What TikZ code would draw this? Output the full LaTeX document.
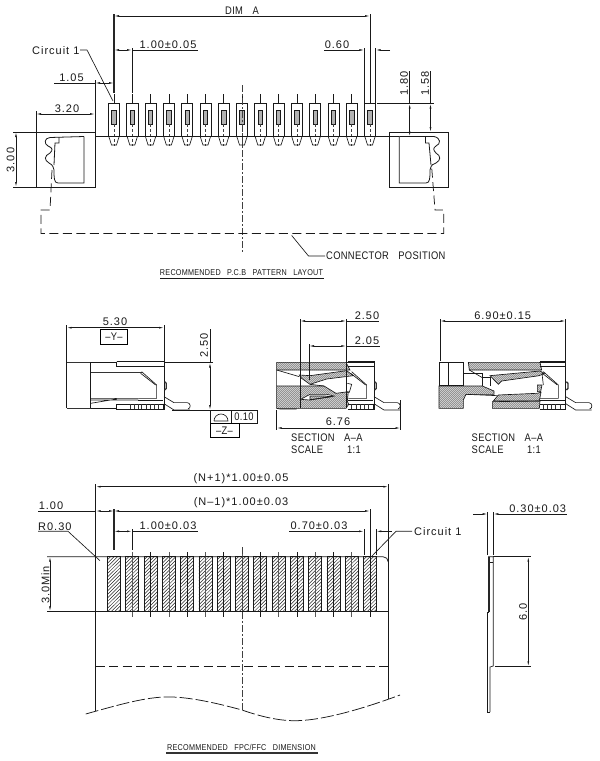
\documentclass[tikz,border=0pt]{standalone}
\usepackage{fontspec}
\setmainfont[LetterSpace=9]{Liberation Sans}
\newfontfamily\capsf[FakeStretch=0.85,LetterSpace=3]{Liberation Sans}
\usetikzlibrary{arrows.meta}
\tikzset{
  ln/.style={line width=0.65pt,black!90},
  thk/.style={line width=1.2pt,black!85},
  med/.style={line width=0.85pt,black!90},
  dimln/.style={line width=0.6pt,black!90,arrows={Latex[length=5pt,width=1.8pt]-Latex[length=5pt,width=1.8pt]}},
  toln/.style={line width=0.6pt,black!90,-{Latex[length=5pt,width=1.8pt]}},
  cen/.style={line width=0.65pt,black!75,dash pattern=on 7pt off 2pt on 2pt off 2pt},
  ctick/.style={line width=0.5pt,black!75,dash pattern=on 3pt off 2pt},
  hid/.style={line width=0.75pt,black!90,dash pattern=on 9pt off 4.5pt},
  txt/.style={inner sep=0pt,font=\fontsize{11}{11}\selectfont,text=black!90},
  captxt/.style={inner sep=0pt,font=\capsf\fontsize{11}{11}\selectfont,text=black!90},
  ttl/.style={inner sep=0pt,font=\capsf\fontsize{8.5}{9}\selectfont,text=black!90},
  z3/.style={x=0.33333pt,y=-0.33333pt},
  hl/.style={line width=0.35pt,black!85}
}
\newcommand\gap{\hspace{9.5pt}}
\newcommand\tgap{\hspace{4pt}}
\newcommand\wgap{\hspace{6.5pt}}
\newcommand\hatchz[1]{%
  \begin{scope}\clip #1;
  \foreach \k in {-160,-154,...,500}{\draw[hl] (\k,320)--(\k+160,160);}
  \end{scope}
  \draw[ln] #1;}
\newcommand\rightpart{%
  \draw[ln] (265,170)--(342,170) (265,184)--(342,184);
  \draw[ln] (342,168)--(342,315);
  \draw[line width=1.3pt,black!80] (344,230)--(349,235)--(349,250)--(344,255);
  \draw[ln] (275,200)--(320,240)--(320,280)--(265,280);
  \draw[ln] (272,205)--(317,240);
  \draw[ln] (265,285)--(340,285);
  \draw[ln] (265,298)--(340,298)--(340,312)--(265,312);
  \foreach \q in {275,288,300,312,325}{\draw[line width=0.9pt,black!80] (\q,298)--(\q,312);}
  \draw[ln] (342,275)--(372,293)--(412,293)..controls (422,293) and (424,310) .. (414,312);
  \draw[ln] (342,296)--(372,315)--(420,315);
}
\begin{document}
\begin{tikzpicture}[x=1pt,y=-1pt]
\useasboundingbox[fill=white] (0,0) rectangle (600,761);

% ===== top view =====
\draw[thk] (114,14)--(114,93);
\draw[ln] (370,14)--(370,103);
\draw[dimln] (114,16)--(370,16);
\node[captxt] (dima) at (242,10.5) {DIM\gap A};
\draw[ln] (132,48)--(132,93);
\draw[dimln] (114,50)--(132,50);
\draw[ln] (132,50)--(198,50);
\node[txt] (d100a) at (168,45) {1.00±0.05};
\node[txt,anchor=west] (circ1) at (32,51) {Circuit\tgap 1};
\draw[ln] (80,50)--(87,50)--(113,101);
\draw[ln] (54,83)--(95,83);
\draw[dimln] (95,83)--(114,83);
\node[txt] (d105) at (71.5,78) {1.05};
\draw[ln] (95,80)--(95,132);
\draw[ln] (36,111)--(36,132);
\draw[dimln] (36,114)--(95,114);
\node[txt] (d320) at (67,109) {3.20};
\draw[ln] (13,132)--(36,132) (13,187)--(36,187);
\draw[dimln] (16,132)--(16,187);
\node[txt,rotate=90] (d300) at (10.5,160) {3.00};
% pins
\foreach \i in {0,...,14}{
  \pgfmathsetmacro\px{114+18.286*\i}
  \draw[ln] (\px-5.6,136.5)--(\px-5.6,103)--(\px+5.6,103)--(\px+5.6,136.5);
  \draw[ln,fill=black!30] (\px-2.2,110)rectangle(\px+2.2,124);
  \draw[ln] (\px,94)--(\px,103);
  \draw[ctick] (\px,124)--(\px,146);
  \draw[ln] (\px-5,137)--(\px-2.5,145)--(\px+2.5,145)--(\px+5,137);
}
\draw[ln] (95,136.5)--(399,136.5);
\draw[cen] (242,85)--(242,252);
% left block
\draw[line width=0.8pt,black!90] (36,132) rectangle (95,187);
\draw[line width=0.8pt,black!90] (84,136.5)--(84,183)--(58,183)..controls (54,183) and (54,178) .. (54,170)
  ..controls (53,164) and (50,164) .. (49,163) ..controls (44,160) and (44,156) .. (50,153)
  ..controls (53,150) and (53,148) .. (48,146)..controls (44,144) and (44,138) .. (50,137.5) -- (84,136.5);
\draw[line width=0.8pt,black!90] (59,137)--(59,143)--(55,143)--(54,165);
\draw[hid] (52,170)--(50,210)--(41,210)--(41,233.5)--(443.7,233.5)--(443.7,210)--(435,210)--(431.5,165);
% right block
\draw[line width=0.8pt,black!90] (389.6,132) rectangle (448,187);
\draw[line width=0.8pt,black!90] (399.3,136.5)--(399.3,183)--(426,183)..controls (430,183) and (430,178) .. (430,170)
  ..controls (431,164) and (434,164) .. (436,163) ..controls (441,160) and (441,156) .. (436,153)
  ..controls (433,150) and (433,148) .. (436,146)..controls (441,144) and (441,138) .. (434,136.5) -- (399.3,136.5);
\draw[line width=0.8pt,black!90] (425.5,137)--(425.5,143)--(429,143)--(431,165);
% 0.60, heights
\draw[ln] (364.4,48)--(364.4,103) (375.6,48)--(375.6,103);
\draw[ln] (324,50)--(350,50);
\draw[toln] (350,50)--(364.4,50);
\draw[toln] (390,50)--(375.6,50);
\node[txt] (d060) at (337,45) {0.60};
\draw[ln] (377,103.5)--(434,103.5);
\draw[dimln] (409.7,103.5)--(409.7,136.5);
\draw[ln] (409.7,71)--(409.7,104);
\draw[ln] (430.5,71)--(430.5,104);
\draw[dimln] (430.5,103.5)--(430.5,132);
\node[txt,rotate=90] (d180) at (404,83.5) {1.80};
\node[txt,rotate=90] (d158) at (425,83.5) {1.58};
\draw[ln] (291.7,235.5)--(308.5,256)--(325,256);
\node[captxt,anchor=west] (cpos) at (326,256) {CONNECTOR\gap POSITION};
\node[ttl] (t1) at (241.5,273) {RECOMMENDED\wgap P.C.B\wgap PATTERN\wgap LAYOUT};
\draw[ln] (160,278)--(323.5,278);

% ===== side view =====
\draw[ln] (66.7,325)--(66.7,362) (164,325)--(164,362);
\draw[dimln] (66.7,327.7)--(164,327.7);
\node[txt] (d530) at (115,322) {5.30};
\node[captxt,draw,line width=0.65pt,minimum width=27pt,minimum height=15pt] (ybox) at (114,336.5) {–Y–};
\draw[ln] (165,362.5)--(213,362.5) (172,410)--(210,410);
\draw[ln] (210,329)--(210,362.5);
\draw[dimln] (210,362.5)--(210,410);
\node[txt,rotate=90] (d250a) at (204,345.5) {2.50};
\draw[ln] (210,410) rectangle (231,423.5);
\draw[ln] (231,410) rectangle (257,423.5);
\draw[ln] (214,421)--(228,421)--(228,421) arc (0:-180:7 and 7);
\node[captxt] (d010) at (244,417) {0.10};
\node[captxt,draw,line width=0.65pt,minimum width=29pt,minimum height=14.5pt] (zbox) at (224.5,430.5) {–Z–};
\begin{scope}[shift={(50,305)},z3]
  \rightpart
  \draw[line width=1.1pt,black!80] (50,172)--(122,172) (50,310)--(122,310);
  \draw[ln] (50,172)--(50,310) (122,172)--(122,310) (122,172)--(200,172);
  \draw[ln] (200,170)--(265,170) (200,170)--(200,184)--(265,184);
  \draw[line width=1.1pt,black!80] (122,202)--(275,202);
  \draw[ln] (122,280)--(265,280) (122,285)--(265,285) (122,295)--(200,282);
  \draw[ln] (122,310)--(200,310) (200,298)--(265,298) (200,298)--(200,312)--(265,312);
  \foreach \q in {240,252,264}{\draw[line width=0.9pt,black!80] (\q,298)--(\q,312);}
\end{scope}

% ===== section A-A (1) =====
\begin{scope}[shift={(260,305)},z3]
  \rightpart
  \draw[ln] (262,172)--(342,172);
  \hatchz{(50,172)--(258,172)--(270,195)--(50,195)--cycle}
  \hatchz{(118,210)--(150,212)--(260,197)--(280,212)--(200,222)--(150,238)--(125,220)--cycle}
  \hatchz{(50,243)--(192,243)--(228,265)--(265,260)--(262,288)--(266,298)--(258,310)--(50,310)--cycle}
  \draw[ln,fill=white] (122,283)--(150,268)--(200,268)--(222,273)--(150,285)--cycle;
  \draw[ln] (50,195)--(118,215) (50,195)--(50,243) (150,238)--(192,243);
  \draw[ln] (120,283)--(120,310);
  \hatchz{(150,273)--(195,273)--(215,275)--(150,284)--cycle}
  \draw[ln] (262,235)--(275,238)--(268,262)--(260,262);
  \draw[ln] (50,310)--(60,312)--(110,312);
\end{scope}
\draw[med] (300,319)--(300,408);
\draw[med] (346.3,319)--(346.3,408);
\draw[dimln] (300,321)--(346.3,321);
\draw[ln] (346.3,321)--(379,321);
\node[txt] (d250b) at (367,316) {2.50};
\draw[ln] (309,344)--(309,380);
\draw[dimln] (309,346)--(346.3,346);
\draw[ln] (346.3,346)--(380,346);
\node[txt] (d205) at (367,341) {2.05};
\draw[ln] (276.7,410)--(276.7,430) (400.5,400)--(400.5,430);
\draw[dimln] (276.7,428)--(400.5,428);
\node[txt] (d676) at (338,422) {6.76};
\node[captxt,anchor=west] (s1) at (291,438) {SECTION\gap A–A};
\node[captxt,anchor=west] (s2) at (291,450) {SCALE};
\node[captxt,anchor=west] (s3) at (347,450) {1:1};

% ===== section A-A (2) =====
\begin{scope}[shift={(451.67,305)},z3]
  \rightpart
  \draw[ln] (262,172)--(342,172);
\end{scope}
\begin{scope}[shift={(430,305)},z3]
  \draw[ln] (27,172) rectangle (100,240);
  \draw[ln] (55,172)--(55,240);
  \draw[ln] (100,205)--(157,205)--(157,243) (157,218)--(180,218)--(180,243);
  \draw[ln] (118,195)--(157,218);
  \hatchz{(115,172)--(330,172)--(335,195)--(118,195)--cycle}
  \hatchz{(180,212)--(330,198)--(343,205)--(328,212)--(215,228)--(205,238)--cycle}
  \hatchz{(27,243)--(157,243)--(192,258)--(192,268)--(108,268)--(100,285)--(100,310)--(27,310)--cycle}
  \hatchz{(205,270)--(320,265)--(333,262)--(328,288)--(190,288)--cycle}
  \hatchz{(187,290)--(330,288)--(328,310)--(187,310)--cycle}
  \hatchz{(322,240)--(336,240)--(332,260)--(322,260)--cycle}
  \draw[ln] (108,268)--(202,272);
  \draw[ln] (336,205)--(340,240);
\end{scope}
\draw[ln] (440,319)--(440,361) (565.7,319)--(565.7,361);
\draw[dimln] (440,321)--(565.7,321);
\node[txt] (d690) at (502.7,316) {6.90±0.15};
\node[captxt,anchor=west] (s4) at (471.5,438) {SECTION\gap A–A};
\node[captxt,anchor=west] (s5) at (471.5,450) {SCALE};
\node[captxt,anchor=west] (s6) at (527,450) {1:1};

% ===== FFC =====
\foreach \i in {0,...,14}{
  \pgfmathsetmacro\px{114+18.286*\i}
  \begin{scope}
    \clip (\px-6.5,556.7) rectangle (\px+6.5,611.3);
    \foreach \k in {0,3.5,...,70}{\draw[line width=0.5pt,black!85] (\px-62+\k,611.3)--(\px-7+\k,556.7);}
  \end{scope}
  \draw[line width=0.65pt,black!90] (\px-6.5,556.7) rectangle (\px+6.5,611.3);
}
\foreach \i in {2,4,...,14}{
  \pgfmathsetmacro\px{114+18.286*\i}
  \draw[line width=0.55pt,black!90] (\px,552)--(\px,617);
}
\foreach \i in {1,3,...,13}{
  \pgfmathsetmacro\px{114+18.286*\i}
  \draw[line width=0.55pt,black!65] (\px,552)--(\px,617);
}
\draw[ln] (95.7,484)--(95.7,711) (388.3,484)--(388.3,699);
\draw[line width=0.75pt,black!90] (47,556.7)--(383,556.7)..controls (386,556.7) and (388.3,559) .. (388.3,562);
\draw[line width=0.75pt,black!90] (47,611.3)--(388.3,611.3);
\draw[hid] (95.7,666.3)--(388.3,666.3);
\draw[cen] (242,547)--(242,710);
\draw[dimln] (95.7,486.7)--(388.3,486.7);
\node[txt] (dn1) at (241,479) {(N+1)*1.00±0.05};
\draw[thk] (114,509)--(114,550);
\draw[ln] (370,509)--(370,552);
\draw[dimln] (114,511)--(370,511);
\node[txt] (dn2) at (241,503) {(N–1)*1.00±0.03};
\draw[ln] (38,511)--(95.7,511);
\draw[dimln] (95.7,511)--(114,511);
\node[txt] (d100b) at (51,506) {1.00};
\draw[ln] (132,529)--(132,550);
\draw[dimln] (114,531.3)--(132,531.3);
\draw[ln] (132,531.3)--(198,531.3);
\node[txt] (d100c) at (168,526) {1.00±0.03};
\node[txt,anchor=west] (r030) at (38,526.5) {R0.30};
\draw[ln] (38,531.3)--(68,531.3)--(100,560.7);
\draw[dimln] (50,556.7)--(50,611.3);
\node[txt,rotate=90] (d30m) at (45.5,585) {3.0Min};
\draw[ln] (364,529)--(364,555) (376.3,529)--(376.3,555);
\draw[ln] (289,531.3)--(350,531.3);
\draw[toln] (350,531.3)--(364,531.3);
\draw[toln] (392,531.3)--(376.3,531.3);
\node[txt] (d070) at (319,526) {0.70±0.03};
\draw[ln] (372,556)--(396,531.3)--(412,531.3);
\node[txt,anchor=west] (circ2) at (414,531.3) {Circuit\tgap 1};
\draw[hid,dash pattern=on 13pt off 3pt] (85.7,714) ..controls (125,703) and (150,696) .. (173,697)
  ..controls (195,698) and (220,704) .. (242,710) ..controls (262,717) and (280,721) .. (297,720.7)
  ..controls (325,720) and (365,708) .. (400,695);
\node[ttl] (t2) at (241.5,747) {RECOMMENDED\wgap FPC/FFC\wgap DIMENSION};
\draw[line width=1.1pt,black!80] (166,753)--(317.5,753);

% ===== FFC side =====
\draw[ln] (487.7,512)--(487.7,555) (493.3,512)--(493.3,555);
\draw[toln] (473,514)--(487.7,514);
\draw[toln] (510,514)--(493.3,514);
\draw[ln] (510,514)--(567,514);
\node[txt] (d030) at (537.7,509) {0.30±0.03};
\draw[ln] (493.3,556.7)--(531,556.7) (495,666.3)--(531,666.3);
\draw[dimln] (528.3,556.7)--(528.3,666.3);
\node[txt,rotate=90] (d60) at (523,611.7) {6.0};
\draw[ln] (488,556.7)--(493.3,556.7)--(493.3,666)--(490,667)--(490,712);
\draw[ln] (488,562)--(493.3,562);
\draw[thk] (489,556.7)--(489,612);
\draw[ln] (489,612)--(487,612)--(487,712)--(490,712);
\end{tikzpicture}
\end{document}
